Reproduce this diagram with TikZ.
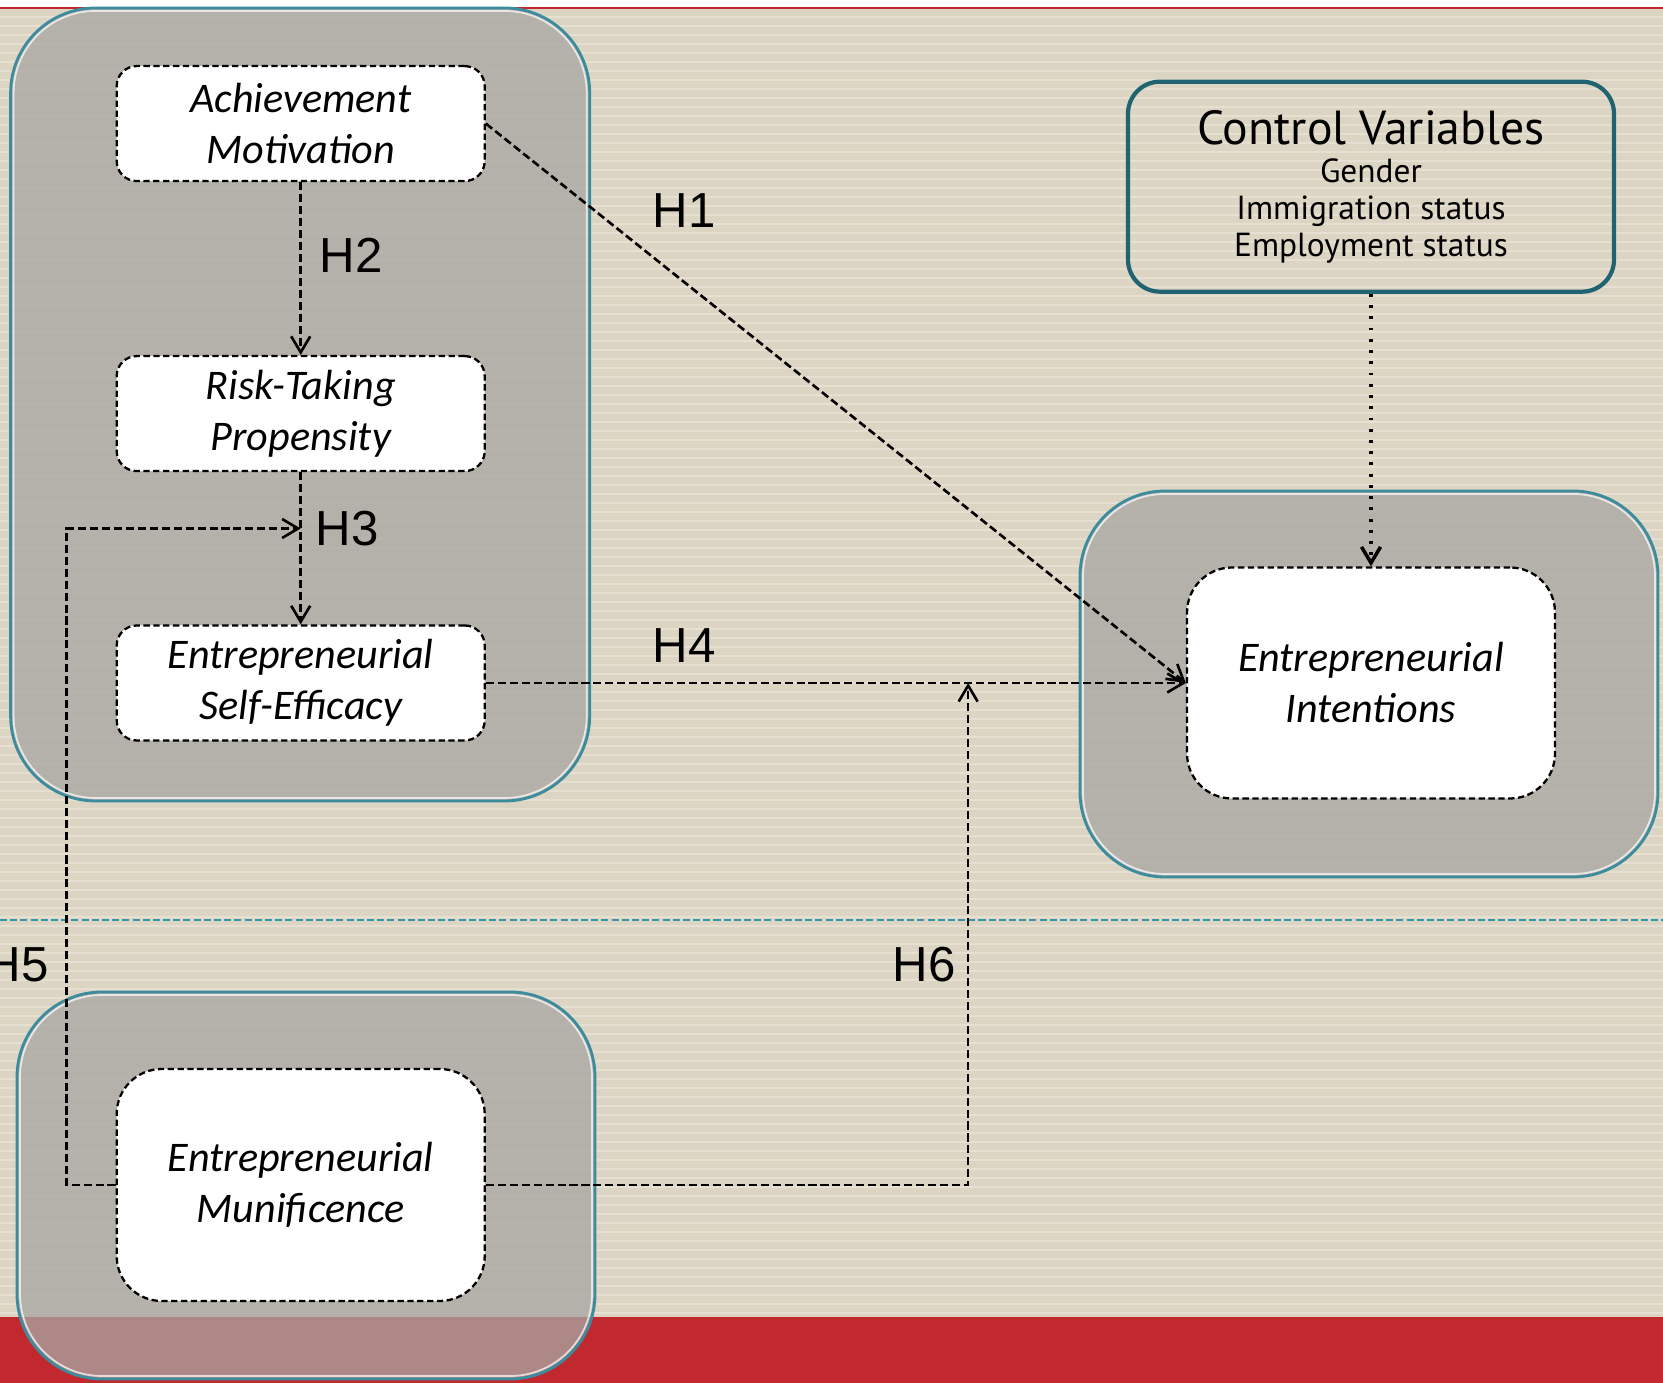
\documentclass[tikz,border=0pt]{standalone}
\usepackage{fontspec}
\setmainfont{Carlito}
\newfontfamily\hfont{Liberation Sans}
\newfontfamily\cvfont{PT Sans}
\usepackage{tikz}
\usetikzlibrary{calc,arrows.meta}

\definecolor{beige}{RGB}{221,213,195}
\definecolor{beigelight}{RGB}{230,224,210}
\definecolor{slidered}{RGB}{193,41,46}
\definecolor{grpfill}{RGB}{167,166,162}
\definecolor{grpedge}{RGB}{60,140,158}
\definecolor{cvedge}{RGB}{32,100,114}
\definecolor{splitline}{RGB}{52,150,170}

\tikzset{
	grpbox/.style={draw=grpedge, line width=0.8pt, fill=grpfill, fill opacity=0.76, rounded corners=0.85cm},
	grpshine/.style={draw=white, draw opacity=0.7, line width=0.5pt, rounded corners=0.82cm},
	var/.style={draw, fill=white, line width=0.65pt, dash pattern=on 1.8pt off 1pt, rounded corners=0.2cm,
		minimum width=3.68cm, minimum height=1.15cm, inner sep=0pt, align=center,
		font=\fontsize{12}{14.5}\selectfont\itshape},
	link/.style={line width=0.75pt, dash pattern=on 2.3pt off 1.1pt, -{Straight Barb[length=1.6mm,width=1.9mm]}},
	hyp/.style={font=\hfont\fontsize{14}{16}\selectfont},
}

\begin{document}
\begin{tikzpicture}
			%%%%% START %%%%%
			\useasboundingbox (0,0) rectangle (16.63,13.83);
			\clip (0,0) rectangle (16.63,13.83);
			
			% slide background
			\fill[white] (0,13.76) rectangle (16.63,13.83);
			\fill[slidered] (0,13.74) rectangle (16.63,13.76);
			\fill[beige] (0,0.66) rectangle (16.63,13.74);
			\foreach \y in {0.70,0.79,...,13.70}
				\draw[beigelight, line width=0.025cm] (0,\y) -- (16.63,\y);
			\fill[slidered] (0,0) rectangle (16.63,0.66);
			\draw[splitline, line width=0.7pt, dash pattern=on 2pt off 0.9pt] (0,4.63) -- (16.63,4.63);
			
			% grey groups
			\draw[grpbox] (0.106,5.82) rectangle (5.897,13.75);
			\draw[grpshine] (0.136,5.85) rectangle (5.867,13.72);
			\draw[grpbox] (0.17,0.04) rectangle (5.95,3.91);
			\draw[grpshine] (0.20,0.07) rectangle (5.92,3.88);
			\draw[grpbox] (10.80,5.06) rectangle (16.58,8.92);
			\draw[grpshine] (10.83,5.09) rectangle (16.55,8.89);
			
			\node[var] (am) at (3.007,12.594) {Achievement\\Motivation};
			\node[var] (rtp) at (3.007,9.694) {Risk-Taking\\Propensity};
			\node[var] (ese) at (3.007,7.00) {Entrepreneurial\\Self-Efficacy};
			\node[var, minimum height=2.32cm, rounded corners=0.45cm] (em) at (3.007,1.98) {Entrepreneurial\\Munificence};
			\node[var, minimum height=2.31cm, rounded corners=0.45cm] (ei) at (13.71,7.00) {Entrepreneurial\\Intentions};
			
			\node[draw=cvedge, line width=1.2pt, rounded corners=0.32cm, minimum width=4.86cm, minimum height=2.10cm,
				align=center, font=\cvfont\fontsize{9.5}{10.5}\selectfont] (cv) at (13.71,11.963)
				{{\fontsize{13.6}{16}\selectfont Control Variables}\\[0.5pt] Gender\\ Immigration status\\ Employment status};
			
			% paths
			\coordinate (h3mid) at ($(rtp.south)!0.37!(ese.north)$);
			\coordinate (h4mid) at ($(ese.east)!0.689!(ei.west)$);
			
			\draw[link] (am.east) -- (ei.west);
			\draw[link] (am.south) -- (rtp.north);
			\draw[link] (rtp.south) -- (ese.north);
			\draw[link] (ese.east) -- (ei.west);
			\draw[link] (em.west) -- ++(-0.49,0) |- (h3mid);
			\draw[link] (em.east) -| (h4mid);
			\draw[line width=1pt, dash pattern=on 0.8pt off 2.4pt, -{Straight Barb[length=1.6mm,width=1.9mm]}] (cv.south) -- (ei.north);
			
			\node[hyp] (h1) at (6.84,11.72) {H1};
			\node[hyp] (h2) at (3.51,11.28) {H2};
			\node[hyp] (h3) at (3.47,8.54) {H3};
			\node[hyp] (h4) at (6.84,7.37) {H4};
			\node[hyp, anchor=east] (h5) at (0.61,4.18) {H5};
			\node[hyp] (h6) at (9.24,4.18) {H6};
			
			%%%%% END %%%%%
\end{tikzpicture}
\end{document}
